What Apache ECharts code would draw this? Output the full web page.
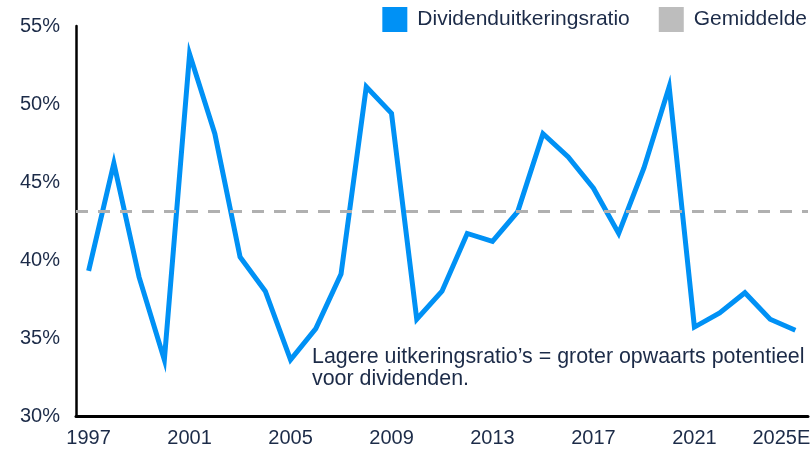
<!DOCTYPE html>
<html>
<head>
    <meta charset="utf-8">
    <script src="https://cdn.jsdelivr.net/npm/echarts@6/dist/echarts.min.js"></script>
    <style>
        html, body { margin: 0; padding: 0; background: #fff; }
    </style>
</head>
<body>
<div id="main" style="width: 810px;height:451px;"></div>
<script type="text/javascript">
    // data
    var years = ['1997', '1998', '1999', '2000', '2001', '2002', '2003', '2004', '2005', '2006',
        '2007', '2008', '2009', '2010', '2011', '2012', '2013', '2014', '2015', '2016',
        '2017', '2018', '2019', '2020', '2021', '2022', '2023', '2024', '2025E'];
    var payoutRatio = [39.3, 46.2, 38.9, 33.6, 53.2, 48.1, 40.2, 38.0, 33.6, 35.6,
        39.1, 51.1, 49.4, 36.2, 38.0, 41.7, 41.2, 43.1, 48.1, 46.6,
        44.6, 41.7, 45.9, 51.1, 35.7, 36.6, 37.9, 36.2, 35.5];
    var average = 43.1;
    var yTicks = [30, 35, 40, 45, 50, 55];

    var textColor = '#1c2b48';
    var font = '"Liberation Sans", Arial, sans-serif';

    // last label sits against the right edge
    var xData = years.map(function (y, i) {
        if (i === years.length - 1) {
            return { value: y, textStyle: { padding: [0, 28, 0, 0] } };
        }
        return y;
    });

    var myChart = echarts.init(document.getElementById('main'));

    var option = {
        animation: false,
        textStyle: { fontFamily: font },
        legend: {
            top: 7,
            right: 3,
            padding: 0,
            itemWidth: 25,
            itemHeight: 25,
            itemGap: 29,
            icon: 'rect',
            textStyle: { fontSize: 21, color: textColor, fontFamily: font, padding: [0, 0, 0, 5] },
            data: ['Dividenduitkeringsratio', 'Gemiddelde']
        },
        grid: {
            left: 76,
            right: 2,
            top: 26,
            bottom: 35,
            containLabel: false,
            outerBoundsMode: 'none'
        },
        xAxis: {
            type: 'category',
            data: xData,
            boundaryGap: true,
            axisLine: { lineStyle: { color: '#000', width: 3 } },
            axisTick: { show: false },
            axisLabel: {
                interval: 3,
                margin: 12,
                fontSize: 20,
                color: textColor,
                fontFamily: font
            },
            splitLine: { show: false }
        },
        yAxis: {
            type: 'value',
            min: yTicks[0],
            max: yTicks[yTicks.length - 1],
            interval: 5,
            axisLine: { show: true, lineStyle: { color: '#000', width: 2.5 } },
            axisTick: { show: false },
            axisLabel: {
                formatter: '{value}%',
                margin: 16,
                fontSize: 20,
                color: textColor,
                fontFamily: font
            },
            splitLine: { show: false }
        },
        series: [{
            name: 'Dividenduitkeringsratio',
            type: 'line',
            data: payoutRatio,
            showSymbol: false,
            symbol: 'none',
            color: '#0091f5',
            lineStyle: { width: 5, color: '#0091f5', join: 'miter' },
            z: 3
        }, {
            name: 'Gemiddelde',
            type: 'line',
            data: [],
            symbol: 'none',
            color: '#bdbdbd',
            lineStyle: { color: '#bdbdbd' },
            markLine: {
                silent: true,
                symbol: 'none',
                label: { show: false },
                lineStyle: { color: '#b0b0b0', width: 3, type: [12, 10] },
                data: [{ yAxis: average }]
            },
            z: 2
        }],
        graphic: [{
            type: 'text',
            left: 312,
            top: 346,
            style: {
                text: 'Lagere uitkeringsratio’s = groter opwaarts potentieel\nvoor dividenden.',
                fill: textColor,
                font: '21.4px "Liberation Sans", Arial, sans-serif',
                lineHeight: 22
            }
        }]
    };

    myChart.setOption(option);
</script>
</body>
</html>
